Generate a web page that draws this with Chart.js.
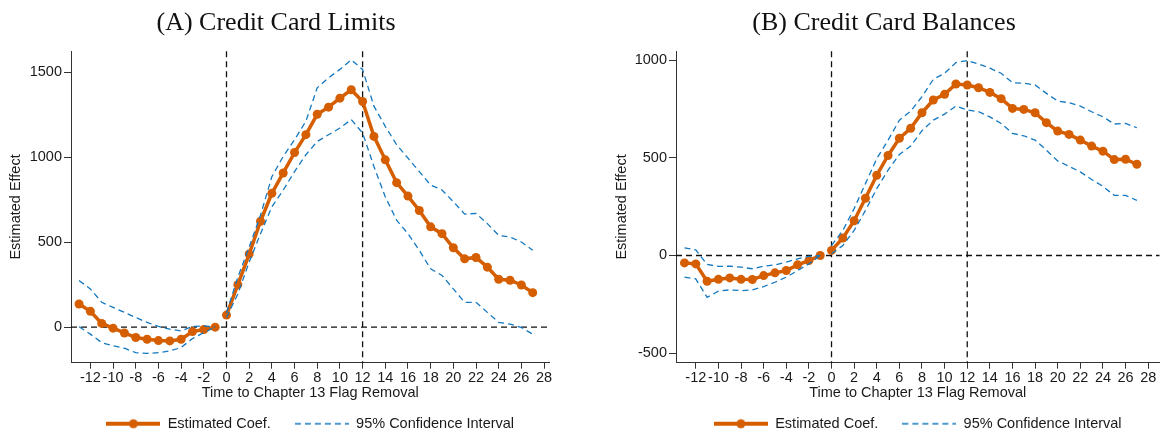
<!DOCTYPE html>
<html>
<head>
<meta charset="utf-8">
<script src="https://cdn.jsdelivr.net/npm/chart.js@4.4.1/dist/chart.umd.min.js"></script>
<style>
html, body { margin: 0; padding: 0; background: #fff; }
#wrapA { position: absolute; left: 0; top: 0; width: 554px; height: 436px; }
#wrapB { position: absolute; left: 606px; top: 0; width: 558px; height: 436px; }
</style>
</head>
<body>
<div id="wrapA"><canvas id="chartA"></canvas></div>
<div id="wrapB"><canvas id="chartB"></canvas></div>
<script>
// months relative to the flag removal
const periods = [-13, -12, -11, -10, -9, -8, -7, -6, -5, -4, -3, -2, -1,
                 0, 1, 2, 3, 4, 5, 6, 7, 8, 9, 10, 11, 12, 13, 14, 15, 16, 17, 18, 19,
                 20, 21, 22, 23, 24, 25, 26, 27];
const xTicks = [-12, -10, -8, -6, -4, -2, 0, 2, 4, 6, 8, 10, 12, 14, 16, 18, 20, 22, 24, 26, 28];

// (A) credit card limits
const limitsCoef = [136, 93, 22, -6, -34, -61, -71, -79, -81, -71, -26, -14, 0,
                    71, 250, 430, 623, 787, 907, 1027, 1132, 1252, 1294, 1347, 1396, 1327, 1122, 984,
                    850, 771, 686, 590, 550, 467, 402, 410, 353, 282, 276, 248, 203];
const limitsUpper = [274, 225, 146, 116, 87, 57, 28, 4, -12, -22, 4, 8, 0,
                     85, 294, 471, 659, 885, 1004, 1102, 1211, 1408, 1467, 1516, 1572, 1516, 1300, 1181,
                     1073, 994, 915, 836, 807, 738, 665, 669, 609, 540, 530, 501, 452];
const limitsLower = [2, -41, -91, -110, -124, -150, -154, -150, -140, -120, -67, -32, 0,
                     57, 195, 383, 550, 708, 806, 915, 1014, 1092, 1132, 1171, 1221, 1142, 945, 767,
                     629, 550, 452, 343, 304, 225, 146, 146, 87, 28, 18, -2, -41];
const limitsYTicks = [0, 500, 1000, 1500];

// (B) credit card balances
const balancesCoef = [-38, -43, -132, -122, -115, -122, -123, -103, -89, -77, -48, -26, 0,
                      26, 89, 178, 293, 411, 512, 600, 651, 731, 796, 825, 878, 873, 859, 835,
                      803, 753, 748, 731, 680, 637, 620, 591, 560, 534, 491, 493, 467];
const balancesUpper = [39, 29, -46, -56, -55, -60, -68, -55, -48, -34, -17, -5, 0,
                       51, 128, 240, 368, 496, 590, 693, 739, 813, 902, 933, 988, 998, 981, 959,
                       933, 885, 882, 873, 830, 791, 782, 765, 736, 710, 673, 676, 654];
const balancesLower = [-111, -120, -214, -183, -176, -180, -176, -159, -137, -111, -77, -43, 0,
                       9, 51, 128, 231, 342, 437, 517, 560, 639, 693, 724, 765, 745, 736, 710,
                       676, 625, 613, 591, 539, 484, 457, 428, 389, 354, 308, 308, 282];
const balancesYTicks = [-500, 0, 500, 1000];

const eventLines = [0, 12];
const zeroLines = [0];

const ORANGE = '#D55E00';
const BLUE = '#1478C0';
const INK = '#1a1a1a';
const sans = { family: 'Liberation Sans', size: 14.5 };

const refLines = {
    id: 'refLines',
    beforeDatasetsDraw(chart) {
        const { ctx, chartArea: a, scales: { x, y } } = chart;
        ctx.save();
        ctx.strokeStyle = '#111';
        ctx.lineWidth = 1.3;
        ctx.setLineDash([6, 4]);
        eventLines.forEach(v => {
            const px = x.getPixelForValue(v);
            ctx.beginPath(); ctx.moveTo(px, a.top); ctx.lineTo(px, a.bottom); ctx.stroke();
        });
        zeroLines.forEach(v => {
            const py = y.getPixelForValue(v);
            ctx.beginPath(); ctx.moveTo(a.left, py); ctx.lineTo(a.right, py); ctx.stroke();
        });
        ctx.restore();
    }
};

function legendIcon(color, width, dash, dot) {
    const c = document.createElement('canvas');
    c.width = 54; c.height = 12;
    const g = c.getContext('2d');
    g.strokeStyle = color; g.lineWidth = width; g.setLineDash(dash);
    g.beginPath(); g.moveTo(0, 6); g.lineTo(54, 6); g.stroke();
    if (dot) {
        g.fillStyle = color;
        g.beginPath(); g.arc(27, 6, 4.5, 0, Math.PI * 2); g.fill();
    }
    return c;
}
const coefIcon = legendIcon(ORANGE, 4, [], true);
const ciIcon = legendIcon(BLUE, 1.3, [6, 4], false);

// no segment between the last pre-period and period 0
const gap = ctx => ctx.p0.parsed.x === -1 ? 'rgba(0,0,0,0)' : undefined;

function series(values) {
    return periods.map((p, i) => ({ x: p, y: values[i] }));
}

function makeChart(id, title, coef, upper, lower, yMin, yMax, yTicks, xMin, xMax, yWidth) {
    const ciStyle = {
        borderColor: BLUE, borderWidth: 1.3, borderDash: [6, 4],
        pointRadius: 0, fill: false, tension: 0, segment: { borderColor: gap }
    };
    return new Chart(document.getElementById(id), {
        type: 'line',
        data: {
            datasets: [
                Object.assign({ label: '95% Confidence Interval', data: series(upper) }, ciStyle),
                Object.assign({ label: '95% CI lower', data: series(lower) }, ciStyle),
                {
                    label: 'Estimated Coef.',
                    data: series(coef),
                    borderColor: ORANGE,
                    backgroundColor: ORANGE,
                    borderWidth: 3.5,
                    pointRadius: 4.5,
                    pointBorderWidth: 0,
                    pointBackgroundColor: ORANGE,
                    tension: 0,
                    segment: { borderColor: gap }
                }
            ]
        },
        options: {
            responsive: true,
            maintainAspectRatio: false,
            animation: false,
            layout: { padding: { left: 0, right: 2, top: 0, bottom: -5 } },
            plugins: {
                title: {
                    display: true,
                    text: title,
                    color: '#111',
                    font: { family: 'Liberation Serif', size: 26, weight: 'normal' },
                    padding: { top: 8, bottom: 12 }
                },
                legend: {
                    position: 'bottom',
                    fullSize: false,
                    labels: {
                        usePointStyle: true,
                        pointStyleWidth: 54,
                        boxHeight: 12,
                        padding: 24,
                        color: INK,
                        font: sans,
                        generateLabels: () => [
                            { text: 'Estimated Coef.', pointStyle: coefIcon, fontColor: INK, lineWidth: 0, datasetIndex: 2 },
                            { text: '95% Confidence Interval', pointStyle: ciIcon, fontColor: INK, lineWidth: 0, datasetIndex: 0 }
                        ]
                    }
                },
                tooltip: { enabled: false }
            },
            scales: {
                x: {
                    type: 'linear',
                    min: xMin,
                    max: xMax,
                    afterBuildTicks: s => { s.ticks = xTicks.map(v => ({ value: v })); },
                    ticks: { color: INK, font: sans, padding: 1, autoSkip: false, maxRotation: 0, callback: v => String(v) },
                    grid: { drawOnChartArea: false, tickLength: 6, color: '#333' },
                    border: { color: '#333', width: 1 },
                    title: { display: true, text: 'Time to Chapter 13 Flag Removal', color: INK, font: sans, padding: { top: -4, bottom: -9 } }
                },
                y: {
                    min: yMin,
                    max: yMax,
                    afterBuildTicks: s => { s.ticks = yTicks.map(v => ({ value: v })); },
                    afterFit: s => { s.width = yWidth; },
                    ticks: { color: INK, font: sans, padding: 2, callback: v => String(v) },
                    grid: { drawOnChartArea: false, tickLength: 7, color: '#333' },
                    border: { color: '#333', width: 1 },
                    title: { display: true, text: 'Estimated Effect', color: INK, font: sans, padding: { top: 7, bottom: 4 } }
                }
            }
        },
        plugins: [refLines]
    });
}

makeChart('chartA', '(A) Credit Card Limits', limitsCoef, limitsUpper, limitsLower,
          -209, 1623, limitsYTicks, -13.71, 28.48, 71);
makeChart('chartB', '(B) Credit Card Balances', balancesCoef, balancesUpper, balancesLower,
          -549, 1046, balancesYTicks, -13.75, 29.0, 70);
</script>
</body>
</html>
